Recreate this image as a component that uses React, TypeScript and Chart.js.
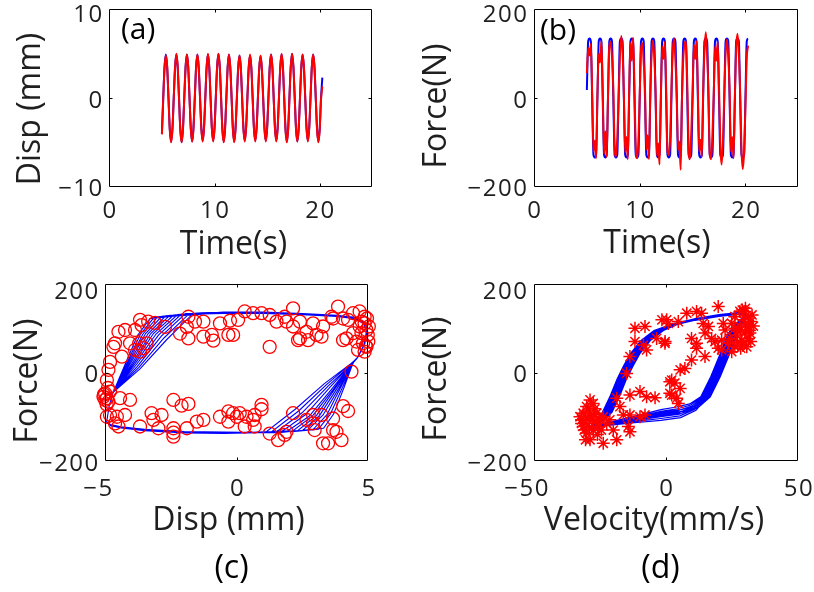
import { useEffect, useRef } from 'react';
import { Chart, registerables } from 'chart.js';

Chart.register(...registerables);

const FONT = '"Open Sans", "DejaVu Sans", sans-serif';
const W = 814;
const H = 592;
const BLUE = '#0000ff';
const RED = '#ff0000';
const TEXT = '#1f1f1f';

// Sampling of the recorded time histories (s)
const SAMPLE_START = 5.0;
const SAMPLE_STEP = 0.125;

// (a) displacement, model and measurement (mm)
const DISP_MODEL = [
  -4.0, 0.0, 3.5, 4.9, 3.5, 0.0, -3.5, -4.9,
  -3.5, 0.0, 3.5, 4.9, 3.5, 0.0, -3.5, -5.0,
  -3.5, 0.0, 3.5, 4.9, 3.5, 0.0, -3.5, -4.9,
  -3.4, 0.0, 3.5, 4.9, 3.4, 0.0, -3.4, -4.8,
  -3.4, 0.0, 3.5, 4.9, 3.5, 0.0, -3.4, -4.8,
  -3.4, 0.1, 3.6, 5.0, 3.5, 0.0, -3.5, -4.9,
  -3.5, 0.0, 3.5, 4.9, 3.4, 0.0, -3.5, -4.9,
  -3.4, 0.0, 3.4, 4.8, 3.4, 0.0, -3.4, -4.8,
  -3.4, 0.0, 3.4, 4.8, 3.4, 0.0, -3.4, -4.8,
  -3.4, 0.0, 3.3, 4.7, 3.3, 0.0, -3.4, -4.8,
  -3.4, 0.0, 3.5, 4.9, 3.5, 0.0, -3.4, -4.8,
  -3.4, 0.0, 3.5, 4.9, 3.5, 0.0, -3.5, -4.9,
  -3.5, 0.1, 3.6, 5.0, 3.5, 0.0, -3.5, -4.9,
  -3.5, 0.0, 3.5, 4.9, 3.4, 0.0, -3.4, -4.8,
  -3.4, 0.0, 3.5, 4.9, 3.5, 0.0, -3.5, -4.9,
  -3.5, 0.0, 2.3,
];
const DISP_MEASURED = [
  -4.1, -0.2, 3.4, 4.8, 3.6, 0.1, -3.6, -5.0,
  -3.6, -0.1, 3.4, 5.0, 3.6, 0.1, -3.6, -5.0,
  -3.6, -0.1, 3.4, 4.9, 3.6, 0.1, -3.5, -4.9,
  -3.5, -0.1, 3.4, 4.9, 3.5, 0.1, -3.5, -4.9,
  -3.5, -0.1, 3.4, 5.0, 3.6, 0.1, -3.5, -4.9,
  -3.5, 0.0, 3.5, 5.0, 3.6, 0.1, -3.6, -5.0,
  -3.6, -0.1, 3.4, 4.9, 3.5, 0.1, -3.6, -5.0,
  -3.5, -0.1, 3.3, 4.8, 3.5, 0.1, -3.5, -4.9,
  -3.5, -0.1, 3.4, 4.9, 3.5, 0.1, -3.5, -4.9,
  -3.5, -0.1, 3.3, 4.8, 3.4, 0.1, -3.5, -4.9,
  -3.5, -0.1, 3.4, 4.9, 3.6, 0.1, -3.5, -4.9,
  -3.5, -0.1, 3.4, 5.0, 3.6, 0.1, -3.6, -5.0,
  -3.6, 0.0, 3.5, 5.0, 3.6, 0.1, -3.5, -4.9,
  -3.5, -0.1, 3.4, 4.9, 3.5, 0.1, -3.5, -4.9,
  -3.5, -0.1, 3.4, 4.9, 3.6, 0.1, -3.6, -5.0,
  -3.6, -0.2, 1.3,
];

// (b) damper force, model and measurement (N)
const FORCE_MODEL = [
  18, 128, 134, 128, 0, -128, -134, -128,
  0, 128, 134, 128, 0, -128, -134, -128,
  0, 128, 134, 128, 0, -128, -134, -128,
  0, 128, 134, 128, 0, -128, -134, -128,
  0, 128, 134, 128, 0, -128, -134, -128,
  0, 128, 134, 128, 0, -128, -134, -128,
  0, 128, 134, 128, 0, -128, -134, -128,
  0, 128, 134, 128, 0, -128, -134, -128,
  0, 128, 134, 128, 0, -128, -134, -128,
  0, 128, 134, 128, 0, -128, -134, -128,
  0, 128, 134, 128, 0, -128, -134, -128,
  0, 128, 134, 128, 0, -128, -134, -128,
  0, 128, 134, 128, 0, -128, -134, -128,
  0, 128, 134, 128, 0, -128, -134, -128,
  0, 128, 134, 128, 0, -128, -134, -128,
  0, 128, 134,
];
const FORCE_MEASURED = [
  56, 112, 96, 122, 15, -120, -96, -136,
  10, 100, 80, 128, 20, -126, -75, -133,
  5, 116, 126, 92, 25, -108, -132, -92,
  -5, 92, 140, 106, 10, -122, -88, -138,
  15, 124, 84, 136, 30, -112, -136, -98,
  5, 110, 124, 80, 20, -116, -84, -138,
  10, 98, 130, 92, 15, -130, -102, -150,
  0, 116, 88, 126, 25, -120, -128, -92,
  20, 106, 134, 84, 10, -116, -98, -162,
  5, 92, 122, 128, 30, -112, -138, -80,
  10, 120, 88, 128, 20, -120, -94, -133,
  15, 106, 148, 98, 15, -126, -138, -84,
  5, 116, 84, 126, 25, -108, -150, -98,
  10, 102, 132, 92, 20, -120, -88, -136,
  0, 114, 145, 98, 15, -116, -160, -120,
  -20, 90, 118,
];

// (c) model hysteresis loops, [disp (mm), force (N)], built from branch pieces
const CORNER_C = [[-4.95, -112], [-4.85, -75], [-4.7, -45]];
const LEFT_FAN_C = [
  [[-4.23, 21], [-3.77, 84], [-3.3, 122], [-2.4, 127]],
  [[-4.18, 21], [-3.67, 86], [-3.15, 124], [-2.25, 129]],
  [[-4.13, 22], [-3.57, 87], [-3.0, 126], [-2.1, 131]],
  [[-4.08, 22], [-3.47, 88], [-2.85, 127], [-1.95, 132]],
  [[-4.03, 22], [-3.37, 88], [-2.7, 128], [-1.8, 133]],
  [[-3.98, 21], [-3.27, 88], [-2.55, 129], [-1.65, 134]],
  [[-3.93, 20], [-3.17, 88], [-2.4, 130], [-1.5, 134.5]],
  [[-3.88, 19], [-3.07, 87], [-2.25, 131], [-1.35, 135]],
  [[-3.83, 17], [-2.97, 85], [-2.1, 132], [-1.2, 135]],
  [[-3.78, 14], [-2.87, 82], [-1.95, 133], [-1.05, 135]],
  [[-3.73, 11], [-2.77, 78], [-1.8, 133.5], [-0.9, 135]],
  [[-3.68, 8], [-2.67, 74], [-1.65, 134], [-0.75, 135]],
];
const TOP_RUN_C = [
  [[-0.5, 135], [1, 135], [2.5, 132], [3.8, 128], [4.5, 123], [4.85, 112], [4.95, 95], [4.85, 65], [4.6, 35], [4.45, 25]],
  [[-0.5, 136.5], [1, 136.5], [2.5, 133.5], [3.8, 129.5], [4.5, 124.5], [4.87, 113], [4.97, 96], [4.87, 66], [4.62, 36], [4.47, 27]],
  [[-0.5, 133.5], [1, 133.5], [2.5, 130.5], [3.8, 126.5], [4.5, 121.5], [4.83, 110], [4.93, 93], [4.83, 62], [4.57, 32], [4.42, 22]],
];
const RIGHT_FAN_C = [
  [[4.07, -35], [3.68, -94], [3.3, -126], [2.4, -131]],
  [[4.0, -36], [3.55, -95], [3.1, -128], [2.2, -133]],
  [[3.93, -36], [3.42, -96], [2.9, -129], [2.0, -134]],
  [[3.87, -37], [3.28, -96], [2.7, -130], [1.8, -135]],
  [[3.8, -37], [3.15, -97], [2.5, -131], [1.6, -136]],
  [[3.73, -37], [3.02, -98], [2.3, -132], [1.4, -136]],
  [[3.67, -38], [2.88, -98], [2.1, -133], [1.2, -136]],
  [[3.6, -38], [2.75, -99], [1.9, -133.5], [1.0, -136]],
  [[3.53, -34], [2.62, -95], [1.7, -134], [0.8, -136]],
  [[3.47, -31], [2.48, -91], [1.5, -134.5], [0.6, -136]],
  [[3.4, -28], [2.35, -87], [1.3, -135], [0.4, -136]],
  [[3.33, -25], [2.22, -83], [1.1, -135], [0.2, -136]],
];
const BOTTOM_RUN_C = [
  [[-0.5, -136], [-2, -135], [-3.5, -130], [-4.4, -124], [-4.8, -119]],
  [[-0.5, -137.5], [-2, -136.5], [-3.5, -131.5], [-4.4, -125.5], [-4.8, -120.5]],
  [[-0.5, -134.5], [-2, -133.5], [-3.5, -128.5], [-4.4, -122.5], [-4.8, -117.5]],
];
// [left fan, top run, right fan, bottom run] for each cycle
const CYCLES_C = [
  [0, 0, 5, 0], [1, 1, 10, 1], [2, 2, 3, 2], [3, 0, 8, 1], [4, 1, 1, 0], [5, 2, 6, 2],
  [6, 0, 11, 0], [7, 1, 4, 2], [8, 2, 9, 1], [9, 0, 2, 0], [10, 1, 7, 2], [11, 2, 0, 1],
];

// (c) measured samples, [disp (mm), force (N)]
const SAMPLES_DISP_FORCE: number[][] = [
  [-3.68, 119], [-3.37, 115], [-3.11, 112], [-2.73, 103], [-4.25, 96], [-4.5, 92], [-3.87, 96], [-3.62, 107],
  [-4.63, 66], [-4.69, 58], [-4.06, 66], [-3.71, 66], [-3.43, 66], [-3.87, 51], [-3.68, 47], [-3.55, 55],
  [-4.37, 36], [-4.82, 24], [-4.88, 6], [-4.94, -17], [-5.01, -47], [-4.94, -58], [-4.88, -66], [-4.82, -43],
  [-5.07, -55], [-4.44, -58], [-4.06, -62], [-4.82, -96], [-4.56, -100], [-4.25, -96], [-4.5, -122], [-4.63, -115],
  [-4.94, -100], [-3.24, -92], [-2.86, -96], [-3.17, -107], [-3.68, -122], [-2.98, -126], [-2.41, -126], [-2.41, -136],
  [-2.41, -145], [-1.9, -126], [-1.52, -111], [-1.27, -107], [-2.41, -62], [-2.1, -75], [-1.84, -71], [-1.84, 126],
  [-1.59, 115], [-1.27, 115], [-1.9, 103], [-2.16, 88], [-1.84, 77], [-1.27, 81], [-0.95, 85], [-0.89, 72],
  [-0.32, 85], [-0.64, 111], [-0.26, 117], [-0.64, -100], [-0.32, -88], [-0.32, -111], [0.0, -100],
  [0.3, 138], [0.62, 134], [0.94, 134], [1.25, 130], [1.82, 126], [2.14, 145], [1.51, 115], [1.89, 115],
  [2.4, 115], [2.14, 104], [2.9, 111], [3.28, 104], [2.65, 92], [3.03, 85], [3.22, 81], [2.4, 77],
  [2.71, 73], [2.33, 73], [3.66, 122], [3.85, 149], [3.6, 126], [4.04, 122], [4.23, 119], [4.42, 134],
  [4.67, 138], [4.86, 126], [4.86, 111], [4.67, 104], [4.93, 96], [4.74, 89], [4.42, 89], [4.17, 77],
  [4.04, 73], [4.55, 70], [4.8, 66], [4.93, 58], [4.86, 47], [4.61, 51], [0.05, 119], [-0.14, 85],
  [1.25, 58], [4.36, 2], [-0.14, -92], [0.11, -92], [0.37, -100], [0.68, -96], [0.94, -73], [0.94, -83],
  [0.62, -107], [0.3, -122], [0.68, -122], [2.14, -92], [1.25, -138], [1.57, -153], [1.82, -141], [1.89, -134],
  [2.96, -130], [2.65, -107], [2.9, -96], [3.22, -96], [2.9, -115], [3.66, -104], [4.04, -76], [4.23, -87],
  [3.66, -130], [3.79, -134], [3.98, -153], [3.28, -160], [3.47, -160],
  [4.95, 122], [5.02, 104], [4.98, 85], [5.0, 70], [4.9, 60], [4.75, 115], [-5.0, -62], [-4.95, -72],
  [-5.05, -50], [-4.9, -35],
];

// (d) model loops, [velocity (mm/s), force (N)], built from branch pieces
const UP_BRANCH_D = [
  [[-28, -119], [-26.3, -110], [-24.1, -90], [-21.1, -52], [-18.6, -15], [-16.1, 15], [-13.6, 42], [-9.6, 72], [-4.6, 95], [2, 109], [11, 120], [20, 129], [28, 134], [30.5, 130]],
  [[-28, -120], [-26.1, -110], [-23.7, -90], [-20.7, -52], [-18.2, -15], [-15.7, 15], [-13.2, 42], [-9.2, 72], [-4.2, 95], [2.3, 110], [11, 121.5], [20, 130.5], [28, 135.5], [30.5, 131.5]],
  [[-28.2, -121], [-25.9, -110], [-23.3, -90], [-20.3, -52], [-17.8, -15], [-15.3, 15], [-12.8, 42], [-8.8, 72], [-3.8, 95], [2.5, 108], [11, 118.5], [20, 127.5], [28, 132.5], [30.5, 128.5]],
  [[-28, -120], [-25.7, -110], [-22.9, -90], [-19.9, -52], [-17.4, -15], [-14.9, 15], [-12.4, 42], [-8.4, 72], [-3.4, 95], [2.8, 109.5], [11, 121], [20, 130], [28, 135], [30.5, 131]],
  [[-28.3, -121], [-25.5, -110], [-22.5, -90], [-19.5, -52], [-17, -15], [-14.5, 15], [-12, 42], [-8, 72], [-3, 95], [3, 108.5], [11, 119], [20, 128], [28, 133], [30.5, 129]],
  [[-28, -119], [-25.3, -110], [-22.1, -90], [-19.1, -52], [-16.6, -15], [-14.1, 15], [-11.6, 42], [-7.6, 72], [-2.6, 95], [3.2, 110], [11, 122], [20, 131], [28, 136], [30.5, 132]],
  [[-28.5, -122], [-25.1, -111], [-21.7, -90], [-18.7, -52], [-16.2, -15], [-13.7, 15], [-11.2, 42], [-7.2, 72], [-2.2, 95], [3.5, 109], [11, 120], [20, 129], [28, 134], [30.5, 130]],
  [[-28, -120], [-24.9, -111], [-21.3, -90], [-18.3, -52], [-15.8, -15], [-13.3, 15], [-10.8, 42], [-6.8, 72], [-1.8, 95], [3.7, 108], [11, 118], [20, 127], [28, 132], [30.5, 128]],
  [[-28.2, -121], [-24.7, -111], [-20.9, -90], [-17.9, -52], [-15.4, -15], [-12.9, 15], [-10.4, 42], [-6.4, 72], [-1.4, 95], [4, 109.5], [11, 121], [20, 130], [28, 135], [30.5, 131]],
  [[-28, -120], [-24.5, -111], [-20.5, -90], [-17.5, -52], [-15, -15], [-12.5, 15], [-10, 42], [-6, 72], [-1, 95], [4.2, 108.5], [11, 119.5], [20, 128.5], [28, 133.5], [30.5, 129.5]],
];
const DOWN_BRANCH_D = [
  [[27.7, 118], [23.4, 88], [20.4, 42], [16.9, -9], [13.1, -55], [8.9, -71], [3.9, -78], [-2, -84], [-12, -99.2], [-22, -112.6]],
  [[27.9, 118], [23.8, 88], [20.8, 42], [17.3, -9], [13.5, -55], [9.3, -73.6], [4.3, -82], [-2, -88], [-12, -101.6], [-22, -113.8]],
  [[28.1, 118], [24.2, 88], [21.2, 42], [17.7, -9], [13.9, -55], [9.7, -76], [4.5, -86], [-2, -92], [-12, -104], [-22, -115]],
  [[28.3, 118], [24.6, 88], [21.6, 42], [18.1, -9], [14.3, -55], [10.1, -78.4], [4.8, -90], [-2, -96], [-12, -106.4], [-22, -116.2]],
  [[28.5, 118], [25, 88], [22, 42], [18.5, -9], [14.7, -55], [10.5, -80.8], [5, -94], [-2, -100], [-12, -108.8], [-22, -117.4]],
  [[28.7, 118], [25.4, 88], [22.4, 42], [18.9, -9], [15.1, -55], [10.9, -83.2], [5.2, -98], [-2, -104], [-12, -111.2], [-22, -118.6]],
  [[28.9, 118], [25.8, 88], [22.8, 42], [19.3, -9], [15.5, -55], [11.3, -85.6], [5.5, -102], [-2, -108], [-12, -113.6], [-22, -119.8]],
  [[29.1, 118], [26.2, 88], [23.2, 42], [19.7, -9], [15.9, -55], [11.7, -74.8], [5.7, -84], [-2, -90], [-12, -102.8], [-22, -114.4]],
  [[29.3, 118], [26.6, 88], [23.6, 42], [20.1, -9], [16.3, -55], [12.1, -79.6], [6, -92], [-2, -98], [-12, -107.6], [-22, -116.8]],
  [[29.5, 118], [27, 88], [24, 42], [20.5, -9], [16.7, -55], [12.5, -77.2], [6.2, -88], [-2, -94], [-12, -105.2], [-22, -115.6]],
];
// [up branch, down branch] for each cycle
const CYCLES_D = [[0, 0], [1, 3], [2, 6], [3, 9], [4, 2], [5, 5], [6, 8], [7, 1], [8, 4], [9, 7]];

// (d) measured samples, [velocity (mm/s), force (N)]
const SAMPLES_VEL_FORCE: number[][] = [
  [-30.1, -77], [-28.8, -62], [-27.6, -70], [-31.4, -92], [-32.0, -107], [-30.1, -115], [-28.8, -100], [-26.3, -92],
  [-25, -107], [-30.1, -137], [-28.8, -152], [-27.6, -130], [-25.6, -122], [-23.8, -100], [-22.5, -115], [-21.3, -107],
  [-31.4, -122], [-26.9, -111], [-32.6, -100], [-29.5, -85], [-27, -82], [-31, -130], [-29, -125], [-26, -140],
  [-24.5, -130], [-28, -108], [-30.5, -100], [-32, -115], [-27.5, -95], [-30.5, -152],
  [-11.8, 100], [-8.0, 104], [-11.8, 70], [-8.6, 62], [-7.4, 51], [-13.7, 36], [-15.0, -2], [-3.6, 77],
  [-0.4, 70], [-1.6, 119], [0.2, 119], [1.4, -21], [1.4, -47], [-18.7, -58], [-13.7, -51], [-9.9, -43],
  [-7.4, -55], [-4.2, -57], [-17.5, -77], [-16.2, -96], [-13.7, -96], [-9.9, -100], [-8.0, -96], [-14.3, -122],
  [-13.7, -134], [-18.7, -152], [-23.8, -160], [-20.0, -130],
  [0.8, 111], [4.6, 115], [7.8, 134], [11.5, 138], [13.4, 134], [19.7, 149], [-0.45, 66], [9.6, 77],
  [11.5, 66], [11.5, 55], [14.7, 36], [9.6, 28], [7.1, 9], [5.3, 6], [2.1, -17], [3.3, -24],
  [5.3, -36], [2.1, -51], [4.0, -58], [4.6, -70], [14.0, 111], [16.0, 104], [14.7, 89], [17.2, 77],
  [18.5, 70], [21.0, 73], [19.7, 55], [22.3, 96], [21.6, 111], [24.8, 111], [26.0, 126], [27.9, 138],
  [29.8, 138], [31.1, 126], [29.2, 119], [31.1, 104], [29.8, 89], [31.1, 77], [28.6, 73], [30.5, 58],
  [26.0, 58], [24.8, 47], [23.5, 66], [27.9, 104], [31.7, 89], [26.7, 85], [24.2, 77], [21.0, 51],
  [32, 115], [30, 145], [28.8, 141], [32.5, 130], [30, 110], [32, 70], [31.5, 95], [28, 95],
  [26, 100], [33, 105], [29, 62], [27, 68], [28.2, 55],
];

// Axis tick values
const TIME_TICKS = [0, 10, 20];
const DISP_TICKS = [-10, 0, 10];
const FORCE_TICKS = [-200, 0, 200];
const DISP_LOOP_TICKS = [-5, 0, 5];
const VEL_TICKS = [-50, 0, 50];

const timeAt = (i: number) => SAMPLE_START + i * SAMPLE_STEP;
const series = (values: number[]) => values.map((v, i) => ({ x: timeAt(i), y: v }));
const pairs = (list: number[][]) => list.map(([x, y]) => ({ x, y }));

const loopsC = () =>
  pairs(
    CYCLES_C.flatMap(([l, t, r, b]) => [
      ...CORNER_C,
      ...LEFT_FAN_C[l],
      ...TOP_RUN_C[t],
      ...RIGHT_FAN_C[r],
      ...BOTTOM_RUN_C[b],
    ]),
  );
const loopsD = () => pairs(CYCLES_D.flatMap(([u, d]) => [...UP_BRANCH_D[u], ...DOWN_BRANCH_D[d]]));

const lineSet = (data: any[], color: string, width: number, order: number, smooth: boolean) => ({
  data,
  borderColor: color,
  borderWidth: width,
  showLine: true,
  pointRadius: 0,
  fill: false,
  order,
  tension: smooth ? 0.4 : 0,
  cubicInterpolationMode: smooth ? 'monotone' : 'default',
});

type TextSpec = { text: string; x: number; y: number; size: number; align?: CanvasTextAlign };
type Panel = {
  area: { l: number; t: number; r: number; b: number };
  xRange: [number, number];
  yRange: [number, number];
  xTicks: number[];
  yTicks: number[];
  xTickCenter: number;
  topShift: number;
  xTitle: TextSpec;
  yTitle: TextSpec;
  tags: TextSpec[];
  datasets: any[];
};

const TICK_SIZE = 24;
const TICK_SPACING = 1.5;
const TITLE_SIZE = 32;

const PANELS: Panel[] = [
  {
    area: { l: 109.3, t: 9.3, r: 372.3, b: 186.7 },
    xRange: [0, 25],
    yRange: [-10, 10],
    xTicks: TIME_TICKS,
    yTicks: DISP_TICKS,
    xTickCenter: 209.5,
    topShift: 4.5,
    xTitle: { text: 'Time(s)', x: 233.5, y: 254, size: TITLE_SIZE },
    yTitle: { text: 'Disp (mm)', x: 40, y: 109, size: TITLE_SIZE },
    tags: [{ text: '(a)', x: 121, y: 39, size: 30, align: 'left' }],
    datasets: [
      lineSet(series(DISP_MODEL), BLUE, 2, 1, true),
      lineSet(series(DISP_MEASURED), RED, 2, 0, true),
    ],
  },
  {
    area: { l: 534, t: 9.3, r: 798.3, b: 186.7 },
    xRange: [0, 25],
    yRange: [-200, 200],
    xTicks: TIME_TICKS,
    yTicks: FORCE_TICKS,
    xTickCenter: 209.5,
    topShift: 4.5,
    xTitle: { text: 'Time(s)', x: 657, y: 253, size: TITLE_SIZE },
    yTitle: { text: 'Force(N)', x: 446, y: 106, size: TITLE_SIZE },
    tags: [{ text: '(b)', x: 540, y: 40, size: 30, align: 'left' }],
    datasets: [
      lineSet(series(FORCE_MODEL), BLUE, 2, 1, true),
      lineSet(series(FORCE_MEASURED), RED, 2, 0, true),
    ],
  },
  {
    area: { l: 105.3, t: 284, r: 368.3, b: 461 },
    xRange: [-5, 5],
    yRange: [-200, 200],
    xTicks: DISP_LOOP_TICKS,
    yTicks: FORCE_TICKS,
    xTickCenter: 487.5,
    topShift: 6,
    xTitle: { text: 'Disp (mm)', x: 228.5, y: 530, size: TITLE_SIZE },
    yTitle: { text: 'Force(N)', x: 36.5, y: 381, size: TITLE_SIZE },
    tags: [{ text: '(c)', x: 231.5, y: 578, size: 32, align: 'center' }],
    datasets: [
      lineSet(loopsC(), BLUE, 1.1, 1, false),
      {
        data: pairs(SAMPLES_DISP_FORCE),
        showLine: false,
        pointStyle: 'circle',
        pointRadius: 6.5,
        pointBorderWidth: 1.3,
        pointBorderColor: RED,
        pointBackgroundColor: 'rgba(0,0,0,0)',
        borderColor: RED,
        backgroundColor: 'rgba(0,0,0,0)',
        clip: false,
        order: 0,
      },
    ],
  },
  {
    area: { l: 534, t: 284, r: 798.3, b: 461 },
    xRange: [-50, 50],
    yRange: [-200, 200],
    xTicks: VEL_TICKS,
    yTicks: FORCE_TICKS,
    xTickCenter: 487.5,
    topShift: 6,
    xTitle: { text: 'Velocity(mm/s)', x: 654, y: 530, size: TITLE_SIZE },
    yTitle: { text: 'Force(N)', x: 446, y: 379, size: TITLE_SIZE },
    tags: [{ text: '(d)', x: 660.5, y: 578, size: 32, align: 'center' }],
    datasets: [
      lineSet(loopsD(), BLUE, 1.2, 1, false),
      {
        data: pairs(SAMPLES_VEL_FORCE),
        showLine: false,
        pointStyle: 'star',
        pointRadius: 6.5,
        pointBorderWidth: 1.5,
        pointBorderColor: RED,
        pointBackgroundColor: RED,
        borderColor: RED,
        backgroundColor: RED,
        clip: false,
        order: 0,
      },
    ],
  },
];

const fmt = (v: number) => (v < 0 ? '\u2212' + Math.abs(v) : String(v));

// Axes box, inward ticks, tick labels, axis titles and panel tags
const axesPlugin = (p: Panel) => ({
  id: 'matlabAxes',
  afterDraw(chart: any) {
    const { ctx, chartArea: a, scales } = chart;
    const xs = scales.x;
    const ys = scales.y;
    const L = Math.round(a.left) + 0.5;
    const R = Math.round(a.right) - 0.5;
    const T = Math.round(a.top) + 0.5;
    const B = Math.round(a.bottom) - 0.5;
    ctx.save();
    ctx.strokeStyle = '#000';
    ctx.lineWidth = 1;
    ctx.beginPath();
    ctx.rect(L, T, R - L, B - T);
    const tick = 3;
    for (const v of p.xTicks) {
      const px = Math.round(xs.getPixelForValue(v)) + 0.5;
      if (px > L + 1 && px < R - 1) {
        ctx.moveTo(px, B);
        ctx.lineTo(px, B - tick);
        ctx.moveTo(px, T);
        ctx.lineTo(px, T + tick);
      }
    }
    for (const v of p.yTicks) {
      const py = Math.round(ys.getPixelForValue(v)) + 0.5;
      if (py > T + 1 && py < B - 1) {
        ctx.moveTo(L, py);
        ctx.lineTo(L + tick, py);
        ctx.moveTo(R, py);
        ctx.lineTo(R - tick, py);
      }
    }
    ctx.stroke();

    ctx.fillStyle = TEXT;
    ctx.font = `${TICK_SIZE}px ${FONT}`;
    (ctx as any).letterSpacing = `${TICK_SPACING}px`;
    ctx.textBaseline = 'alphabetic';
    const half = TICK_SIZE * 0.357;
    ctx.textAlign = 'right';
    for (const v of p.xTicks) {
      const px = xs.getPixelForValue(v);
      const w = ctx.measureText(String(Math.abs(v))).width;
      ctx.fillText(fmt(v), px + w / 2 + TICK_SPACING / 2, p.xTickCenter + half);
    }
    const yMax = Math.max(...p.yTicks);
    for (const v of p.yTicks) {
      const py = ys.getPixelForValue(v) + (v === yMax ? p.topShift : 1);
      ctx.fillText(fmt(v), a.left - 7 + TICK_SPACING, py + half);
    }
    (ctx as any).letterSpacing = '0px';

    ctx.font = `${p.xTitle.size}px ${FONT}`;
    ctx.textAlign = 'center';
    ctx.fillText(p.xTitle.text, p.xTitle.x, p.xTitle.y);

    ctx.save();
    ctx.translate(p.yTitle.x, p.yTitle.y);
    ctx.rotate(-Math.PI / 2);
    ctx.font = `${p.yTitle.size}px ${FONT}`;
    ctx.textAlign = 'center';
    ctx.fillText(p.yTitle.text, 0, 0);
    ctx.restore();

    for (const tag of p.tags) {
      ctx.font = `${tag.size}px ${FONT}`;
      ctx.textAlign = tag.align ?? 'left';
      ctx.fillStyle = '#000';
      ctx.fillText(tag.text, tag.x, tag.y);
    }
    ctx.restore();
  },
});

function PanelChart({ panel }: { panel: Panel }) {
  const ref = useRef<HTMLCanvasElement | null>(null);
  useEffect(() => {
    let chart: Chart | null = null;
    let cancelled = false;
    const build = () => {
      if (cancelled || !ref.current) return;
      const { area } = panel;
      chart = new Chart(ref.current, {
        type: 'scatter',
        data: { datasets: panel.datasets },
        options: {
          animation: false,
          responsive: false,
          devicePixelRatio: 1,
          events: [],
          layout: {
            padding: { left: area.l, top: area.t, right: W - area.r, bottom: H - area.b },
          },
          plugins: { legend: { display: false }, tooltip: { enabled: false } },
          scales: {
            x: { type: 'linear', min: panel.xRange[0], max: panel.xRange[1], display: false },
            y: { type: 'linear', min: panel.yRange[0], max: panel.yRange[1], display: false },
          },
        } as any,
        plugins: [axesPlugin(panel)],
      });
    };
    const fonts = (document as any).fonts;
    if (fonts && fonts.load) {
      Promise.all([fonts.load(`${TICK_SIZE}px "Open Sans"`), fonts.load(`${TITLE_SIZE}px "Open Sans"`)])
        .catch(() => undefined)
        .then(build);
    } else {
      build();
    }
    return () => {
      cancelled = true;
      if (chart) chart.destroy();
    };
  }, [panel]);
  return (
    <canvas
      ref={ref}
      width={W}
      height={H}
      style={{ position: 'absolute', left: 0, top: 0, width: W, height: H }}
    />
  );
}

export default function App() {
  return (
    <div style={{ position: 'absolute', left: 0, top: 0, width: W, height: H, background: '#fff' }}>
      {PANELS.map((p, i) => (
        <PanelChart key={i} panel={p} />
      ))}
    </div>
  );
}
